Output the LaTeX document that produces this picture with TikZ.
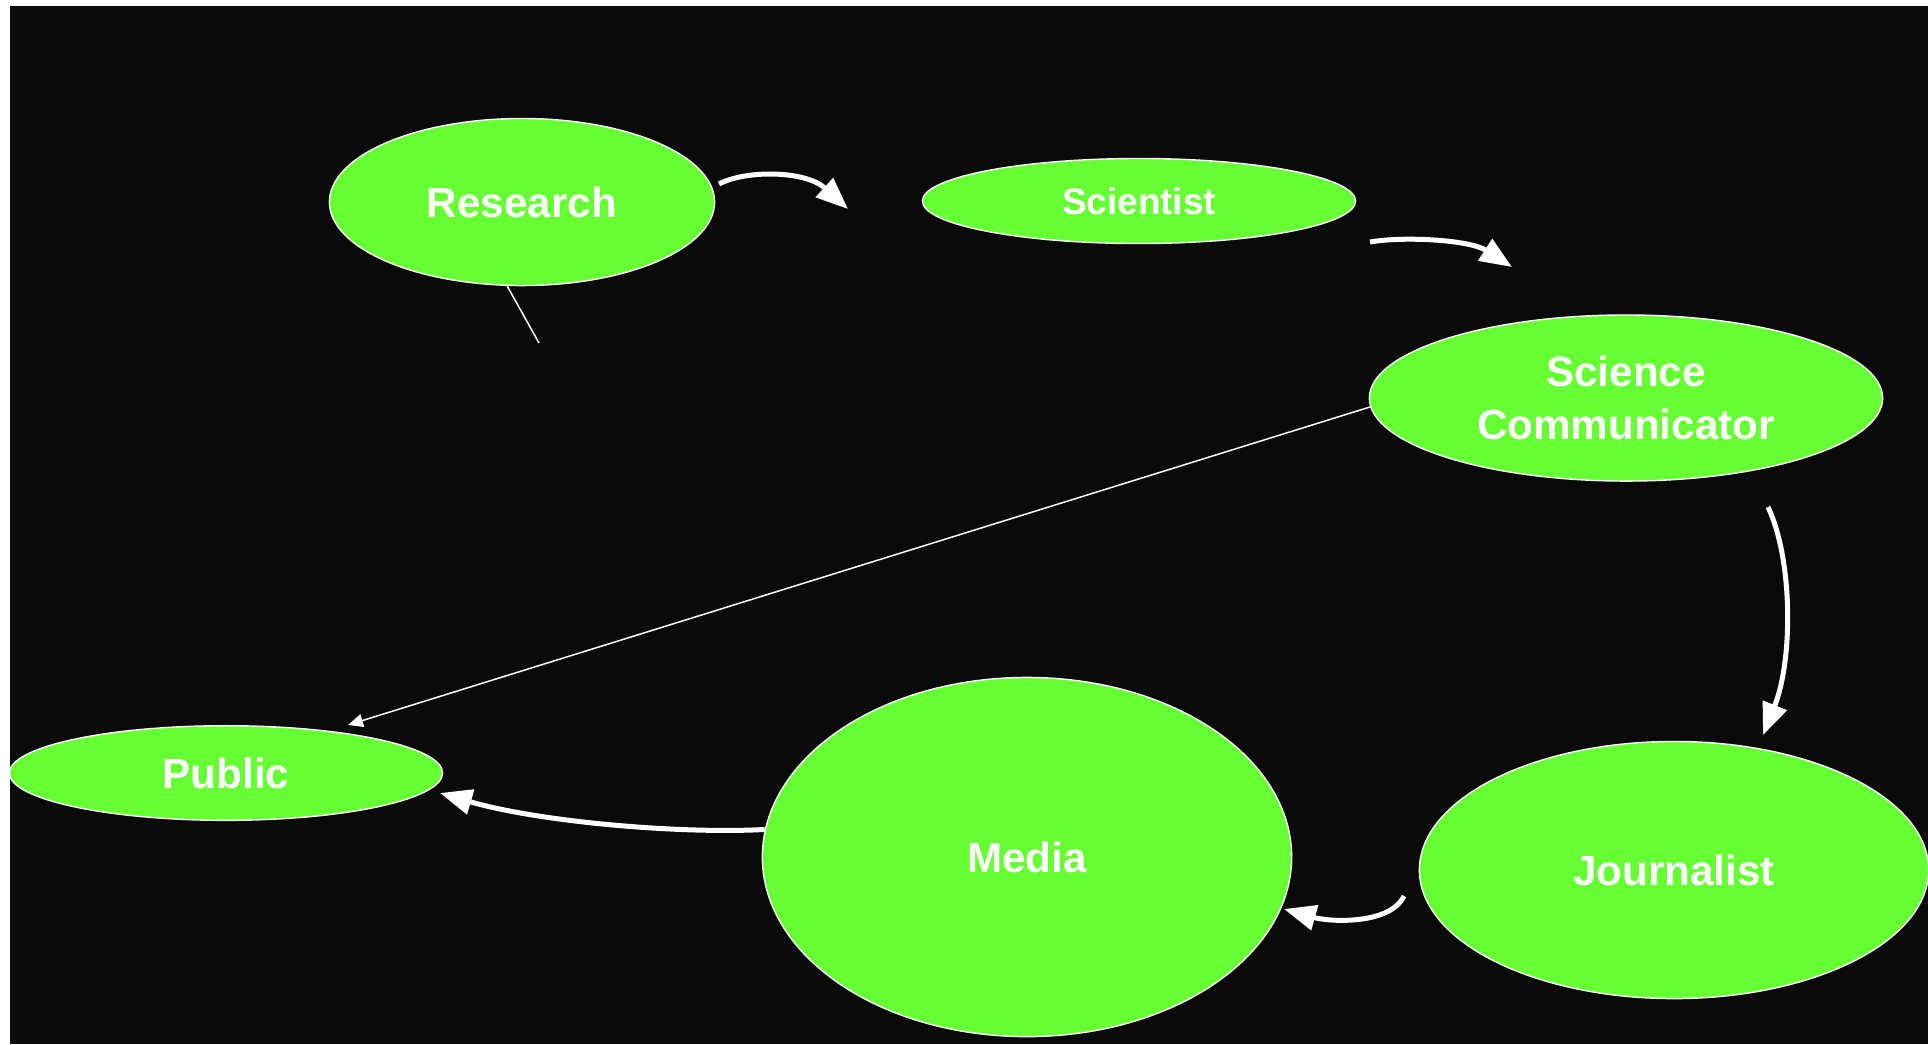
\documentclass[tikz,border=0pt]{standalone}
\usepackage{fontspec}
\setmainfont{Liberation Sans}
\usepackage{xcolor}
\usetikzlibrary{shapes.geometric,arrows.meta}
\definecolor{leaf}{RGB}{102,255,51}
\definecolor{night}{RGB}{10,10,10}

\begin{document}
\begin{tikzpicture}[x=0.01cm,y=-0.01cm,
  bubble/.style={ellipse,draw=white,line width=0.4pt,fill=leaf,text=white,
    inner sep=0pt,align=center,font=\bfseries\fontsize{12}{15}\selectfont},
  flow/.style={white,line width=0.05cm,-{Triangle[length=0.32cm,width=0.25cm]}},
  link/.style={white,line width=0.015cm}]
\useasboundingbox (0,0) rectangle (1928,1044);
\fill [white] (0,0) rectangle (1928,1044);
\fill [night] (10,6) rectangle (1928,1044);
\node [bubble,minimum width=3.85cm,minimum height=1.67cm] (research) at (522,202) {Research};
\node [bubble,minimum width=4.33cm,minimum height=0.85cm,font=\bfseries\fontsize{10.5}{13}\selectfont] (scientist) at (1139,201) {Scientist};
\node [bubble,minimum width=5.13cm,minimum height=1.66cm] (comm) at (1626,398) {Science\\Communicator};
\node [bubble,minimum width=4.33cm,minimum height=0.946cm] (public) at (226,773) {Public};
\node [bubble,minimum width=5.29cm,minimum height=3.59cm] (media) at (1027,857) {Media};
\node [bubble,minimum width=5.09cm,minimum height=2.57cm] (journalist) at (1674,870) {Journalist};
\coordinate (r2s0) at (719,184);
\coordinate (r2s) at (848,209);
\coordinate (s2c0) at (1370,242);
\coordinate (s2c) at (1512,267);
\coordinate (c2j0) at (1768,507);
\coordinate (c2j) at (1763,735);
\coordinate (j2m0) at (1404,896);
\coordinate (j2m) at (1284,909);
\coordinate (m2p) at (440,793);
\coordinate (c2p) at (348,725);
\coordinate (rtail) at (539,343);
\draw [flow] (r2s0) .. controls (745,170) and (805,170) .. (r2s);
\draw [flow] (s2c0) .. controls (1405,236) and (1470,240) .. (s2c);
\draw [flow] (c2j0) .. controls (1793,560) and (1793,660) .. (c2j);
\draw [flow] (j2m0) .. controls (1390,925) and (1330,922) .. (j2m);
\draw [flow] (media.174) .. controls (680,834) and (540,822) .. (m2p);
\draw [link,-{Triangle[length=0.15cm,width=0.13cm]}] (comm.182) -- (c2p);
\draw [link] (research.260) -- (rtail);
\end{tikzpicture}
\end{document}
